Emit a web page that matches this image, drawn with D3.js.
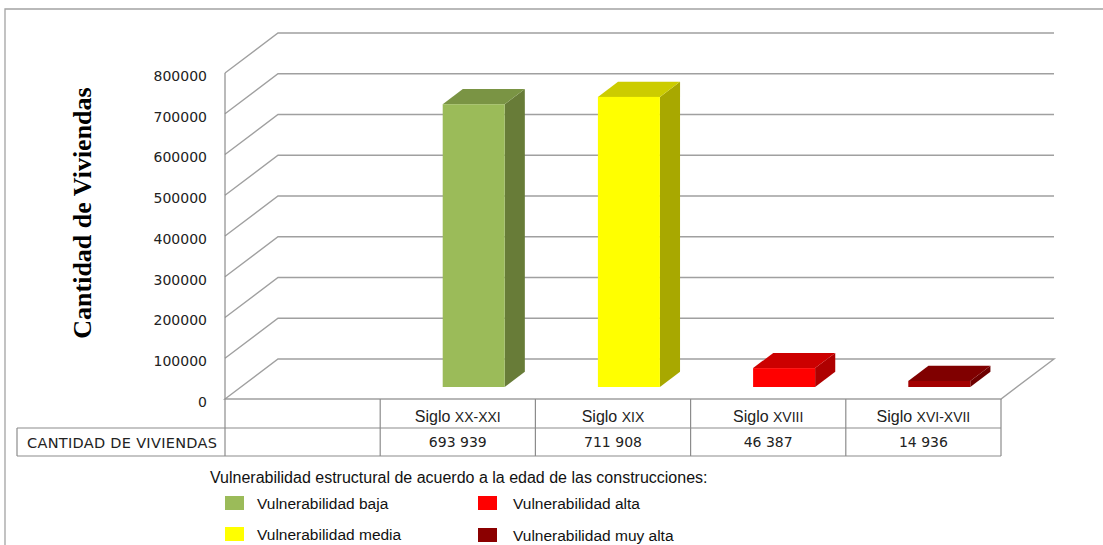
<!DOCTYPE html>
<html>
<head>
<meta charset="utf-8">
<script src="https://cdn.jsdelivr.net/npm/d3@7"></script>
<style>
  body { margin: 0; background: #fff; }
  svg { display: block; }
</style>
</head>
<body>
<script>
// data
var categories = ["XX-XXI", "XIX", "XVIII", "XVI-XVII"];
var values = [693939, 711908, 46387, 14936];
var yTicks = [0, 100000, 200000, 300000, 400000, 500000, 600000, 700000, 800000];
var rowLabel = "CANTIDAD DE VIVIENDAS";
var legendTitle = "Vulnerabilidad estructural de acuerdo a la edad de las construcciones:";
var legendLabels = ["Vulnerabilidad baja", "Vulnerabilidad media", "Vulnerabilidad alta", "Vulnerabilidad muy alta"];

// colours: front, top, side
var faceColors = ["#9BBB59", "#FFFF00", "#FF0000", "#A30000"];
var topColors = ["#7A9444", "#CCCC00", "#CC0000", "#800000"];
var sideColors = ["#687C38", "#A8A800", "#AE0000", "#6E0000"];
var legendColors = ["#9BBB59", "#FFFF00", "#FF0000", "#8B0000"];

var width = 1103, height = 545;
var depthX = 53, depthY = 40;       // 3d offset front -> back wall
var barFront = 0.3, barBack = 0.68; // bar depth as share of the floor
var barWidth = 62;
var gridColor = "#a0a0a0";

var svg = d3.select("body").append("svg")
  .attr("width", width)
  .attr("height", height);

var xScale = d3.scaleBand()
  .domain(["blank"].concat(categories))
  .range([225, 1001])
  .paddingInner(0);

var yScale = d3.scaleLinear()
  .domain([0, 800000])
  .range([399, 73]);

var fmt = d3.formatLocale({decimal: ",", thousands: " ", grouping: [3], currency: ["", ""]}).format(",d");

// outer frame
svg.append("path")
  .attr("d", "M5," + height + "V9H" + width)
  .attr("fill", "none")
  .attr("stroke", "#a3a3a3")
  .attr("stroke-width", 1.3);

/* gridlines on the side and back walls */
var x0 = xScale.range()[0], x1 = xScale.range()[1];
svg.append("g").attr("class", "grid")
  .selectAll("path")
  .data(yTicks.filter(d => d > 0)).enter()
  .append("path")
  .attr("d", d => "M" + x0 + "," + yScale(d) + "L" + (x0 + depthX) + "," + (yScale(d) - depthY) + "H" + (x1 + depthX))
  .attr("fill", "none")
  .attr("stroke", gridColor)
  .attr("stroke-width", 1.4);

// floor
svg.append("path")
  .attr("d", "M" + x0 + "," + yScale(0) + "L" + (x0 + depthX) + "," + (yScale(0) - depthY) +
    "H" + (x1 + depthX) + "L" + x1 + "," + yScale(0) + "Z")
  .attr("fill", "none")
  .attr("stroke", gridColor)
  .attr("stroke-width", 1.4);

/* bars */
var bars = svg.append("g").attr("class", "bars")
  .selectAll("g")
  .data(values).enter()
  .append("g");

function barGeom(d, i) {
  var cx = xScale(categories[i]) + xScale.bandwidth() / 2 + barFront * depthX;
  var l = cx - barWidth / 2, r = cx + barWidth / 2;
  var base = yScale(0) - barFront * depthY;
  var top = yScale(d) - barFront * depthY;
  var dx = (barBack - barFront) * depthX, dy = (barBack - barFront) * depthY;
  return {l: l, r: r, base: base, top: top, dx: dx, dy: dy};
}

bars.append("path")
  .attr("d", (d, i) => {
    var g = barGeom(d, i);
    return "M" + g.r + "," + g.top + "L" + (g.r + g.dx) + "," + (g.top - g.dy) +
      "V" + (g.base - g.dy) + "L" + g.r + "," + g.base + "Z";
  })
  .attr("fill", (d, i) => sideColors[i]);

bars.append("path")
  .attr("d", (d, i) => {
    var g = barGeom(d, i);
    return "M" + g.l + "," + g.top + "L" + (g.l + g.dx) + "," + (g.top - g.dy) +
      "H" + (g.r + g.dx) + "L" + g.r + "," + g.top + "Z";
  })
  .attr("fill", (d, i) => topColors[i]);

bars.append("rect")
  .attr("x", (d, i) => barGeom(d, i).l)
  .attr("y", (d, i) => barGeom(d, i).top)
  .attr("width", barWidth)
  .attr("height", (d, i) => barGeom(d, i).base - barGeom(d, i).top)
  .attr("fill", (d, i) => faceColors[i]);

/* y axis labels */
var yAxis = d3.axisLeft(yScale).tickValues(yTicks).tickSize(0).tickPadding(0).tickFormat(d3.format("d"));
var ya = svg.append("g")
  .attr("class", "y axis")
  .attr("transform", "translate(207,3)")
  .call(yAxis);
ya.select(".domain").remove();
ya.selectAll("text")
  .attr("fill", "#222")
  .style("font-family", "DejaVu Sans")
  .style("font-size", "14px");

svg.append("text")
  .attr("transform", "translate(91,213) rotate(-90)")
  .attr("text-anchor", "middle")
  .style("font-family", "Liberation Serif")
  .style("font-weight", "bold")
  .style("font-size", "26px")
  .attr("fill", "#000")
  .text("Cantidad de Viviendas");

/* data table */
var rowTop = yScale(0), rowMid = 428, rowBot = 456, tableLeft = 17;
var tbl = svg.append("g").attr("class", "table")
  .attr("stroke", "#8c8c8c")
  .attr("stroke-width", 1.2)
  .attr("fill", "none");

tbl.append("path").attr("d", "M" + tableLeft + "," + rowMid + "H" + x1);
tbl.append("path").attr("d", "M" + tableLeft + "," + rowBot + "H" + x1);
tbl.append("path").attr("d", "M" + tableLeft + "," + rowMid + "V" + rowBot);
tbl.append("path").attr("d", "M" + x1 + "," + rowTop + "V" + rowBot);
tbl.selectAll(".vline")
  .data(categories).enter()
  .append("path")
  .attr("class", "vline")
  .attr("d", d => "M" + xScale(d) + "," + rowTop + "V" + rowBot);

// value axis line (front)
svg.append("path")
  .attr("d", "M" + x0 + "," + yScale(800000) + "V" + rowBot)
  .attr("stroke", "#8c8c8c")
  .attr("stroke-width", 1.2);

var catText = svg.append("g")
  .selectAll("text")
  .data(categories).enter()
  .append("text")
  .attr("x", d => xScale(d) + xScale.bandwidth() / 2)
  .attr("y", 422)
  .attr("text-anchor", "middle")
  .attr("fill", "#222")
  .style("font-family", "Liberation Sans");
catText.append("tspan").style("font-size", "16px").text("Siglo ");
catText.append("tspan").style("font-size", "14px").text(d => d);

svg.append("g")
  .selectAll("text")
  .data(values).enter()
  .append("text")
  .attr("x", (d, i) => xScale(categories[i]) + xScale.bandwidth() / 2)
  .attr("y", 447)
  .attr("text-anchor", "middle")
  .attr("fill", "#222")
  .style("font-family", "DejaVu Sans")
  .style("font-size", "14px")
  .text(d => fmt(d));

svg.append("text")
  .attr("x", 27)
  .attr("y", 448)
  .attr("fill", "#222")
  .attr("textLength", 190)
  .attr("lengthAdjust", "spacing")
  .style("font-family", "DejaVu Sans")
  .style("font-size", "14.5px")
  .text(rowLabel);

/* legend */
svg.append("text")
  .attr("x", 210)
  .attr("y", 483)
  .attr("fill", "#111")
  .style("font-family", "Liberation Sans")
  .style("font-size", "16px")
  .text(legendTitle);

var legend = svg.append("g").attr("class", "legend")
  .selectAll("g")
  .data(legendLabels).enter()
  .append("g")
  .attr("transform", (d, i) => "translate(" + (i < 2 ? 225 : 478) + "," + (i % 2 === 0 ? 496 : 527 + (i > 1 ? 1 : 0)) + ")");

legend.append("rect")
  .attr("width", 19)
  .attr("height", 14)
  .attr("fill", (d, i) => legendColors[i]);

legend.append("text")
  .attr("x", (d, i) => i < 2 ? 32 : 35)
  .attr("y", 13)
  .attr("fill", "#111")
  .style("font-family", "Liberation Sans")
  .style("font-size", "15.5px")
  .text(d => d);
</script>
</body>
</html>
